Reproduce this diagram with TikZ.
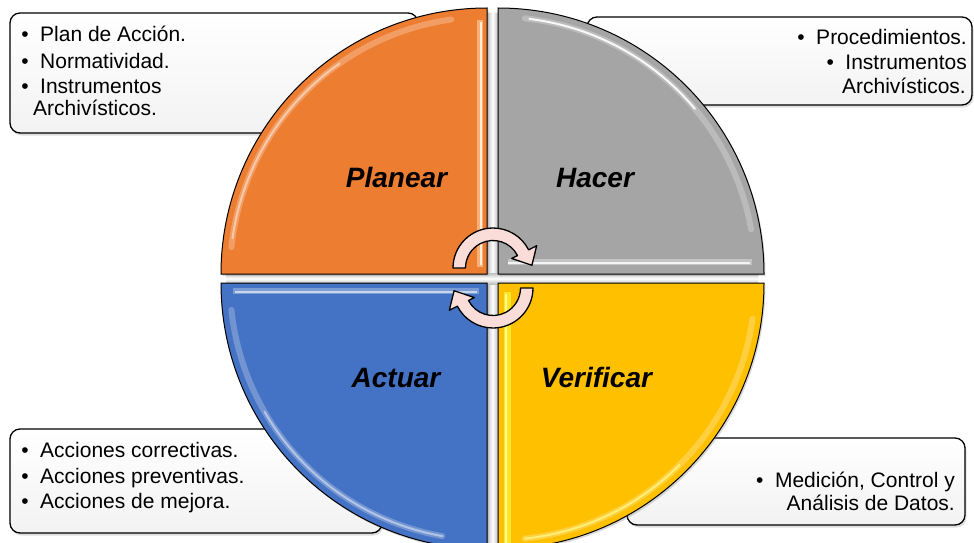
\documentclass[tikz,border=0pt]{standalone}
\usepackage{fontspec}
\setmainfont{Liberation Sans}
\usetikzlibrary{calc,shadows}
\definecolor{qorange}{HTML}{ED7D31}
\definecolor{qgray}{HTML}{A5A5A5}
\definecolor{qblue}{HTML}{4472C4}
\definecolor{qyellow}{HTML}{FFC000}
\definecolor{arrowpink}{HTML}{FADDD8}
\tikzset{
  infobox/.style={draw=black, line width=1.3pt, rounded corners=10pt,
    top color=white, bottom color=black!5, inner sep=0pt,
    drop shadow={opacity=0.25, shadow xshift=1.5pt, shadow yshift=-2.5pt}},
  quad/.style={draw=black, line width=1pt,
    drop shadow={opacity=0.3, shadow xshift=1.5pt, shadow yshift=-2pt}},
  itemtxt/.style={font=\fontsize{21}{25}\selectfont, inner sep=0pt},
  bul/.style={font=\fontsize{21}{25}\selectfont, inner sep=0pt, anchor=base},
  qlabel/.style={font=\fontsize{28}{30}\selectfont\bfseries\itshape, inner sep=0pt, anchor=base},
  cyc/.style={fill=arrowpink, draw=black, line width=1.3pt, line join=round},
  softhl/.style={line width=6pt, line cap=round, opacity=0.25},
  hl/.style={line width=2pt, line cap=round},
}
\begin{document}
\begin{tikzpicture}[x=1pt,y=-1pt]
\useasboundingbox (0,0) rectangle (974,543);
\fill[white] (0,0) rectangle (974,543);

% ---- information boxes (behind the circle)
\node[infobox, minimum width=408pt, minimum height=120pt] (boxtl) at (214,73) {};
\node[infobox, minimum width=385pt, minimum height=88pt] (boxtr) at (779.5,61) {};
\node[infobox, minimum width=372pt, minimum height=104pt] (boxbl) at (196,481) {};
\node[infobox, minimum width=338pt, minimum height=87pt] (boxbr) at (796,481.5) {};

% ---- gaps between the quadrants
\begin{scope}
  \clip (492.5,278.5) circle[radius=266];
  \shade[left color=black!30, right color=black!30, middle color=white] (486,0) rectangle (499,560);
  \shade[top color=black!25, bottom color=black!25, middle color=white] (200,273) rectangle (790,284);
\end{scope}

% ---- quadrants
\path[quad, fill=qorange] (487,274) -- (221,274) arc[start angle=180, end angle=270, radius=266] -- cycle;
\path[quad, fill=qgray] (498,274) -- (498,8) arc[start angle=270, end angle=360, radius=266] -- cycle;
\path[quad, fill=qyellow] (498,283) -- (764,283) arc[start angle=0, end angle=90, radius=266] -- cycle;
\path[quad, fill=qblue] (487,283) -- (487,549) arc[start angle=90, end angle=180, radius=266] -- cycle;

% ---- bevel highlights: orange
\draw[softhl, white] (487,274) ++(186:257) arc[start angle=186, end angle=262, radius=257];
\draw[hl, white, opacity=0.45] (487,274) ++(188:257) arc[start angle=188, end angle=235, radius=257];
\draw[line width=6pt, color=orange!35!white, opacity=0.6] (480,20) -- (480,267);
\draw[line width=2pt, color=orange!15!white] (481,22) -- (481,265);
% gray
\draw[softhl, white] (498,274) ++(276:257) arc[start angle=276, end angle=350, radius=257];
\draw[hl, white, opacity=0.9] (498,274) ++(277:257) arc[start angle=277, end angle=320, radius=257];
\draw[line width=6pt, white, opacity=0.35] (508,262) -- (752,262);
\draw[line width=2.5pt, white, opacity=0.8] (508,263) -- (750,263);
% blue
\draw[line width=6pt, color=qblue!40!white, opacity=0.5] (233,291) -- (479,291);
\draw[line width=2pt, color=qblue!30!white] (235,292) -- (477,292);
\draw[softhl, white] (487,283) ++(100:257) arc[start angle=100, end angle=174, radius=257];
\draw[hl, white, opacity=0.45] (487,283) ++(100:257) arc[start angle=100, end angle=150, radius=257];
% yellow
\draw[line width=7pt, color=yellow!80!white, opacity=0.7] (507,292) -- (507,545);
\draw[line width=2pt, color=yellow!40!white] (506,294) -- (506,545);
\draw[softhl, white] (498,283) ++(8:257) arc[start angle=8, end angle=84, radius=257];
\draw[hl, yellow!50!white, opacity=0.8] (498,283) ++(45:257) arc[start angle=45, end angle=84, radius=257];

% ---- cycle arrows
\coordinate (c1) at (493,268);
\coordinate (c2) at (493,288);
\path[cyc] ($(c1)+(180:40)$) arc[start angle=180, end angle=333, radius=40]
  -- ($(c1)+(333:49)$) -- ($(c1)+(356:39)$) -- ($(c1)+(333:21)$)
  -- ($(c1)+(333:27.5)$) arc[start angle=333, end angle=180, radius=27.5] -- cycle;
\path[cyc] ($(c2)+(0:40)$) arc[start angle=0, end angle=153, radius=40]
  -- ($(c2)+(153:49)$) -- ($(c2)+(176:39)$) -- ($(c2)+(153:21)$)
  -- ($(c2)+(153:27.5)$) arc[start angle=153, end angle=0, radius=27.5] -- cycle;

% ---- quadrant labels
\node[qlabel] (lplan) at (396.5,187) {Planear};
\node[qlabel] (lhac) at (595,187) {Hacer};
\node[qlabel] (lact) at (396,387) {Actuar};
\node[qlabel] (lver) at (596.5,387) {Verificar};

% ---- top-left text
\node[itemtxt, anchor=base west] (tl1) at (40,42) {Plan de Acción.};
\node[itemtxt, anchor=base west] (tl2) at (40,68) {Normatividad.};
\node[itemtxt, anchor=base west] (tl3) at (40,93) {Instrumentos};
\node[itemtxt, anchor=base west] (tl4) at (33,115) {Archivísticos.};
\node[bul] (btl1) at ([xshift=-15pt]tl1.base west) {•};
\node[bul] (btl2) at ([xshift=-15pt]tl2.base west) {•};
\node[bul] (btl3) at ([xshift=-15pt]tl3.base west) {•};

% ---- top-right text
\node[itemtxt, anchor=base east] (tr1) at (967,45) {Procedimientos.};
\node[itemtxt, anchor=base east] (tr2) at (967,70) {Instrumentos};
\node[itemtxt, anchor=base east] (tr3) at (966,93) {Archivísticos.};
\node[bul] (btr1) at ([xshift=-15pt]tr1.base west) {•};
\node[bul] (btr2) at ([xshift=-15pt]tr2.base west) {•};

% ---- bottom-left text
\node[itemtxt, anchor=base west] (bl1) at (40,457) {Acciones correctivas.};
\node[itemtxt, anchor=base west] (bl2) at (40,483) {Acciones preventivas.};
\node[itemtxt, anchor=base west] (bl3) at (40,508) {Acciones de mejora.};
\node[bul] (bbl1) at ([xshift=-15pt]bl1.base west) {•};
\node[bul] (bbl2) at ([xshift=-15pt]bl2.base west) {•};
\node[bul] (bbl3) at ([xshift=-15pt]bl3.base west) {•};

% ---- bottom-right text
\node[itemtxt, anchor=base east] (br1) at (955,487) {Medición, Control y};
\node[itemtxt, anchor=base east] (br2) at (955,510) {Análisis de Datos.};
\node[bul] (bbr1) at ([xshift=-15pt]br1.base west) {•};
\end{tikzpicture}
\end{document}
